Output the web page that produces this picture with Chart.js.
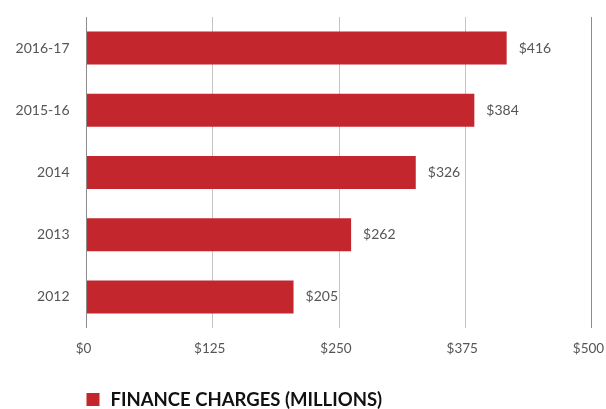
<!DOCTYPE html>
<html>
<head>
<meta charset="utf-8">
<script src="https://cdn.jsdelivr.net/npm/chart.js@4"></script>
<style>
  html, body { margin: 0; padding: 0; background: #fff; }
  #wrap { width: 606px; height: 409px; position: relative; }
</style>
</head>
<body>
<div id="wrap"><canvas id="chart" width="606" height="409"></canvas></div>
<script>
const categories = ['2016-17', '2015-16', '2014', '2013', '2012'];
const financeCharges = [416, 384, 326, 262, 205];
const xTicks = [0, 125, 250, 375, 500];
const seriesLabel = 'FINANCE CHARGES (MILLIONS)';

const barColor = '#c4262e';
const textColor = '#555555';
const fontFamily = 'Lato, "Open Sans", sans-serif';

// value labels to the right of each bar
const valueLabels = {
    id: 'valueLabels',
    afterDatasetsDraw(chart) {
        const ctx = chart.ctx;
        const meta = chart.getDatasetMeta(0);
        ctx.save();
        ctx.font = '14px ' + fontFamily;
        ctx.fillStyle = textColor;
        ctx.textBaseline = 'middle';
        ctx.textAlign = 'left';
        meta.data.forEach((bar, i) => {
            ctx.fillText('$' + financeCharges[i], bar.x + 12, bar.y);
        });
        ctx.restore();
    }
};

// legend square + bold label under the axis
const bottomLegend = {
    id: 'bottomLegend',
    afterDraw(chart) {
        const ctx = chart.ctx;
        const left = chart.chartArea.left;
        ctx.save();
        ctx.fillStyle = barColor;
        ctx.fillRect(left, 393, 13, 13);
        ctx.fillStyle = '#111';
        ctx.font = 'bold 18.5px ' + fontFamily;
        ctx.textBaseline = 'middle';
        ctx.fillText(seriesLabel, left + 24, 400);
        ctx.restore();
    }
};

new Chart(document.getElementById('chart'), {
    type: 'bar',
    data: {
        labels: categories,
        datasets: [{
            label: seriesLabel,
            data: financeCharges,
            backgroundColor: barColor,
            barPercentage: 0.53,
            categoryPercentage: 1.0
        }]
    },
    options: {
        indexAxis: 'y',
        responsive: false,
        animation: false,
        layout: { padding: { top: 17, right: 14.5, bottom: 0, left: 0 } },
        plugins: {
            legend: { display: false },
            tooltip: { enabled: false }
        },
        scales: {
            x: {
                min: 0,
                max: 500,
                afterBuildTicks: (scale) => {
                    scale.ticks = xTicks.map(v => ({ value: v }));
                },
                afterFit: (scale) => {
                    scale.height = 81;
                    scale.paddingLeft = 0;
                    scale.paddingRight = 0;
                },
                border: { display: false },
                grid: {
                    drawTicks: false,
                    lineWidth: 1,
                    color: (c) => (c.index === 0 || c.index === xTicks.length - 1) ? '#8c8c8c' : '#c4c4c4'
                },
                ticks: {
                    padding: 13,
                    labelOffset: -3,
                    color: textColor,
                    font: { family: fontFamily, size: 13.5 },
                    callback: (v) => '$' + v
                }
            },
            y: {
                afterFit: (scale) => {
                    scale.width = 86.5;
                    scale.paddingTop = 0;
                    scale.paddingBottom = 0;
                },
                border: { display: false },
                grid: { display: false },
                ticks: {
                    padding: 9,
                    color: textColor,
                    font: { family: fontFamily, size: 14 }
                }
            }
        }
    },
    plugins: [valueLabels, bottomLegend]
});
</script>
</body>
</html>
